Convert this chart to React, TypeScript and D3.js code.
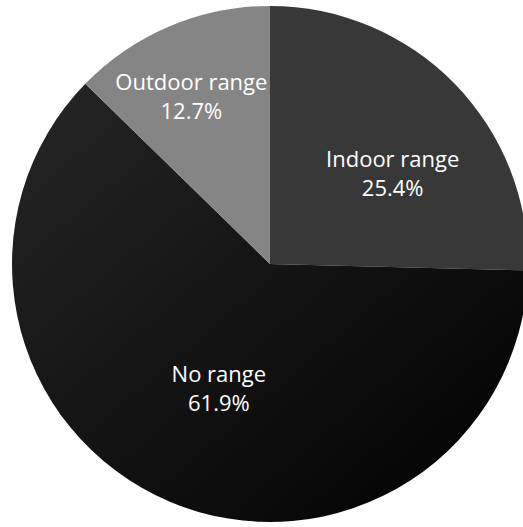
import React from "react";
import * as d3 from "d3";

const categories = ["Indoor range", "No range", "Outdoor range"];
const values = [25.4, 61.9, 12.7];
const valueLabels = ["25.4%", "61.9%", "12.7%"];

const W = 523;
const H = 527;
const CX = 270;
const CY = 264;
const R = 258;
const fills = ["#383838", "url(#noRangeGrad)", "#858585"];
// label placement (polar, relative to slice mid angle)
const labelAngleOffset = [8.1, -0.6, -2.3];
const labelRadius = [152, 135, 185];

export default function App() {
  const pie = d3.pie<number>().sort(null).value((d) => d);
  const arcs = pie(values);
  const arc = d3.arc<d3.PieArcDatum<number>>().innerRadius(0).outerRadius(R);

  return (
    <svg
      width={W}
      height={H}
      style={{ position: "absolute", left: 0, top: 0, background: "#fff" }}
    >
      <defs>
        <linearGradient id="noRangeGrad" x1="0" y1="0" x2="1" y2="1">
          <stop offset="0" stopColor="#262626" />
          <stop offset="0.55" stopColor="#111111" />
          <stop offset="1" stopColor="#000000" />
        </linearGradient>
      </defs>
      <g transform={`translate(${CX},${CY})`}>
        {arcs.map((a, i) => (
          <path key={categories[i]} d={arc(a) || ""} fill={fills[i]} />
        ))}
        {arcs.map((a, i) => {
          const mid = (a.startAngle + a.endAngle) / 2 + (labelAngleOffset[i] * Math.PI) / 180;
          const x = labelRadius[i] * Math.sin(mid);
          const y = -labelRadius[i] * Math.cos(mid);
          return (
            <text
              key={"l" + i}
              x={x}
              y={y}
              textAnchor="middle"
              fill="#ffffff"
              fontFamily="'Open Sans', sans-serif"
              fontSize={22}
            >
              <tspan x={x} dy={-7}>{categories[i]}</tspan>
              <tspan x={x} dy={29}>{valueLabels[i]}</tspan>
            </text>
          );
        })}
      </g>
    </svg>
  );
}
